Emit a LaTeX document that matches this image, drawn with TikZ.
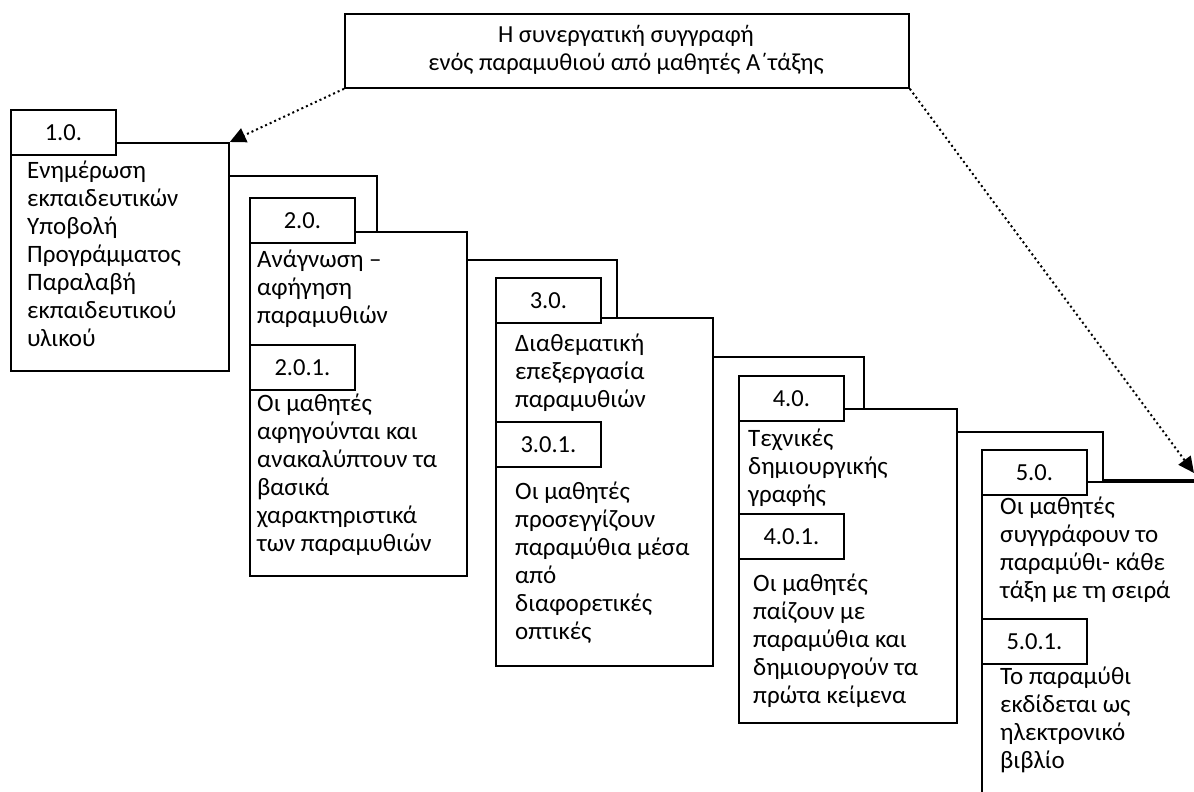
\documentclass[tikz,border=0pt]{standalone}
\usepackage{fontspec}
\setmainfont{Carlito}
\usetikzlibrary{arrows.meta,calc}
\tikzset{
  frame/.style={draw=black,line width=1.8pt,fill=white,inner sep=0pt,anchor=north west},
  tag/.style={draw=black,line width=1.8pt,fill=white,inner sep=0pt,anchor=north west,
    minimum width=105pt,minimum height=45pt,font=\fontsize{24.5}{28}\selectfont},
  body/.style={inner sep=0pt,anchor=north west,align=left,font=\fontsize{25}{28}\selectfont},
  link/.style={draw=black,line width=1.8pt},
  pointer/.style={draw=black,line width=2pt,dash pattern=on 2pt off 3pt,
    -{Triangle[length=16pt,width=15pt,fill=black]}},
}
\newcommand{\fs}{\rule{0pt}{19.6pt}}
\begin{document}
\begin{tikzpicture}[x=1pt,y=-1pt]
\useasboundingbox (0,0) rectangle (1194,792);
\clip (0,0) rectangle (1194,792);
% title
\node[frame,minimum width=564pt,minimum height=74pt] (t) at (344,13) {};
\node[inner sep=0pt,align=center,font=\fontsize{24.5}{28}\selectfont] (tt) at (626,50)
  {Η συνεργατική συγγραφή\\ενός παραμυθιού από μαθητές Α΄τάξης};
% main boxes
\node[frame,minimum width=218pt,minimum height=228pt] (b1) at (10,142) {};
\node[frame,minimum width=217pt,minimum height=344pt] (b2) at (249,231) {};
\node[frame,minimum width=217pt,minimum height=348pt] (b3) at (495,317) {};
\node[frame,minimum width=218pt,minimum height=314pt] (b4) at (738,408) {};
\node[frame,minimum width=260pt,minimum height=340pt] (b5) at (981,481) {};
% tags
\node[tag] (l1) at (10,109) {1.0.};
\node[tag] (l2) at (249,197) {2.0.};
\node[tag] (l21) at (249,344) {2.0.1.};
\node[tag] (l3) at (495,277) {3.0.};
\node[tag] (l31) at (495,421) {3.0.1.};
\node[tag] (l4) at (738,375) {4.0.};
\node[tag] (l41) at (738,513) {4.0.1.};
\node[tag] (l5) at (981,449) {5.0.};
\node[tag] (l51) at (981,618) {5.0.1.};
% texts
\node[body] (x1) at (27,158.4) {\fs Ενημέρωση\\εκπαιδευτικών\\Υποβολή\\Προγράμματος\\Παραλαβή\\εκπαιδευτικού\\υλικού};
\node[body] (x2) at (257,247.4) {\fs Ανάγνωση –\\αφήγηση\\παραμυθιών};
\node[body] (x21) at (257,391.4) {\fs Οι μαθητές\\αφηγούνται και\\ανακαλύπτουν τα\\βασικά\\χαρακτηριστικά\\των παραμυθιών};
\node[body] (x3) at (515,331.4) {\fs Διαθεματική\\επεξεργασία\\παραμυθιών};
\node[body] (x31) at (515,479.4) {\fs Οι μαθητές\\προσεγγίζουν\\παραμύθια μέσα\\από\\διαφορετικές\\οπτικές};
\node[body] (x4) at (748,426.4) {\fs Τεχνικές\\δημιουργικής\\γραφής};
\node[body] (x41) at (753,571.4) {\fs Οι μαθητές\\παίζουν με\\παραμύθια και\\δημιουργούν τα\\πρώτα κείμενα};
\node[body] (x5) at (1000,494.4) {\fs Οι μαθητές\\συγγράφουν το\\παραμύθι- κάθε\\τάξη με τη σειρά};
\node[body] (x51) at (1000,664.4) {\fs Το παραμύθι\\εκδίδεται ως\\ηλεκτρονικό\\βιβλίο};
% connectors
\draw[link] ([yshift=-34pt]b1.north east) -| ([xshift=128pt]b2.north west);
\draw[link] ([yshift=-29pt]b2.north east) -| ([xshift=122pt]b3.north west);
\draw[link] ([yshift=-40pt]b3.north east) -| ([xshift=126pt]b4.north west);
\coordinate (edge5) at (1194,480);
\draw[link] ([yshift=-24pt]b4.north east) -| ([xshift=122pt,yshift=1pt]b5.north west) -- (edge5);
% pointers
\coordinate (tipR) at (1194,473);
\draw[pointer] (t.south west) -- (b1.north east);
\draw[pointer] (t.south east) -- (tipR);
\end{tikzpicture}
\end{document}
